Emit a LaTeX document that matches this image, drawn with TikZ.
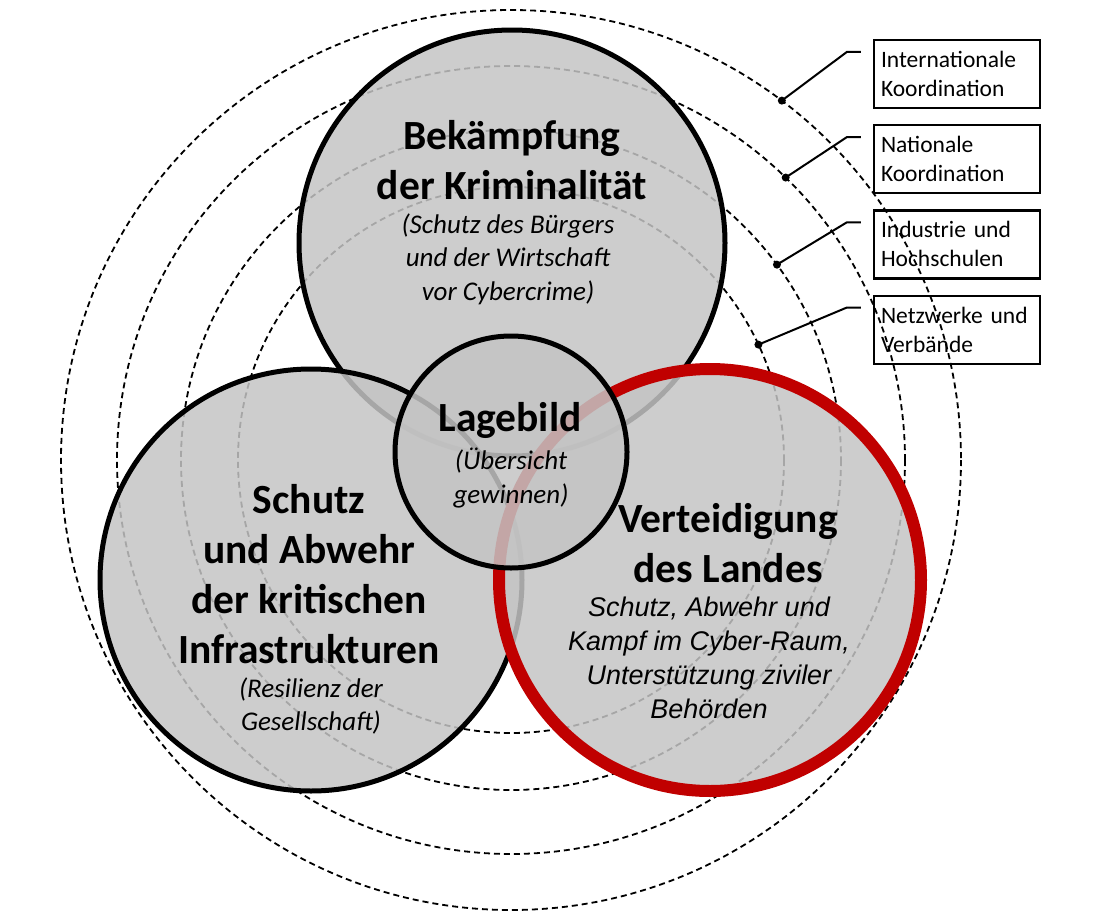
\documentclass[tikz,border=0pt]{standalone}
\usepackage{fontspec}
\setmainfont{Carlito}
\newfontfamily\arialfont{Liberation Sans}
\usetikzlibrary{positioning, calc}

\definecolor{areagray}{RGB}{196,196,196}
\definecolor{bwred}{RGB}{192,0,0}

\begin{document}
\begin{tikzpicture}[x=1pt,y=-1pt,node distance=15pt,
    zone/.style={line width=1.8pt, dash pattern=on 6pt off 4pt},
    area/.style={circle, inner sep=0pt, draw=black, line width=5pt, fill=areagray, fill opacity=0.85},
    areatitle/.style={align=center, font=\fontsize{41.5}{50}\selectfont\bfseries},
    areanote/.style={align=center, font=\fontsize{27}{33.5}\selectfont\itshape},
    orgbox/.style={draw, line width=2.2pt, minimum width=166pt, minimum height=68pt, text width=152pt, align=left, inner sep=6pt, font=\fontsize{23.5}{29}\selectfont},
    leaderdot/.style={circle, fill, inner sep=0pt, minimum size=8pt}]

    \useasboundingbox (0,0) rectangle (1098,918);

    % dashed rings round the middle
    \coordinate (m) at (511,460);
    \foreach \r in {450,394,330,273}
      \draw[zone] (m) circle[radius=\r];

    % the four fields
    \node[area, minimum size=426pt] (krim) at (512,243) {};
    \node[area, minimum size=422pt] (kritis) at (311,580) {};
    \node[area, draw=bwred, line width=12pt, minimum size=422pt] (vert) at (710,580) {};
    \node[area, minimum size=232pt] (lage) at (511,452) {};

    \node[areatitle] (krimtitle) at (512,160) {Bekämpfung\\der Kriminalität};
    \node[areanote] (krimnote) at (508,259) {(Schutz des Bürgers\\und der Wirtschaft\\vor Cybercrime)};
    \node[areatitle] (kritistitle) at (309,574) {Schutz\\und Abwehr\\der kritischen\\Infrastrukturen};
    \node[areanote] (kritisnote) at (311,706) {(Resilienz der\\Gesellschaft)};
    \node[areatitle] (verttitle) at (728,543) {Verteidigung\\des Landes};
    \node[areanote, font=\arialfont\fontsize{27}{34}\selectfont\itshape] (vertnote) at (709,658) {Schutz, Abwehr und\\Kampf im Cyber-Raum,\\Unterstützung ziviler\\Behörden};
    \node[areatitle] (lagetitle) at (510,420) {Lagebild};
    \node[areanote] (lagenote) at (511,478) {(Übersicht\\gewinnen)};

    % boxes on the right
    \node[orgbox] (intl) at (957,74) {Internationale\\Koordination};
    \node[orgbox, below=of intl] (natl) {Nationale\\Koordination};
    \node[orgbox, below=of natl] (indu) {Industrie und\\Hochschulen};
    \node[orgbox, below=of indu] (netz) {Netzwerke und\\Verbände};

    \foreach \b/\a/\r in {intl/-53/450, natl/-45.8/394, indu/-36.3/330, netz/-25/273} {
      \node[leaderdot] (dot\b) at ($(m)+(\a:\r)$) {};
      \coordinate (knee\b) at ($(\b.north west)+(-26,13)$);
      \coordinate (end\b) at ($(\b.north west)+(-12,13)$);
      \draw[line width=2pt] (dot\b.center) -- (knee\b) -- (end\b);
    }
\end{tikzpicture}
\end{document}
